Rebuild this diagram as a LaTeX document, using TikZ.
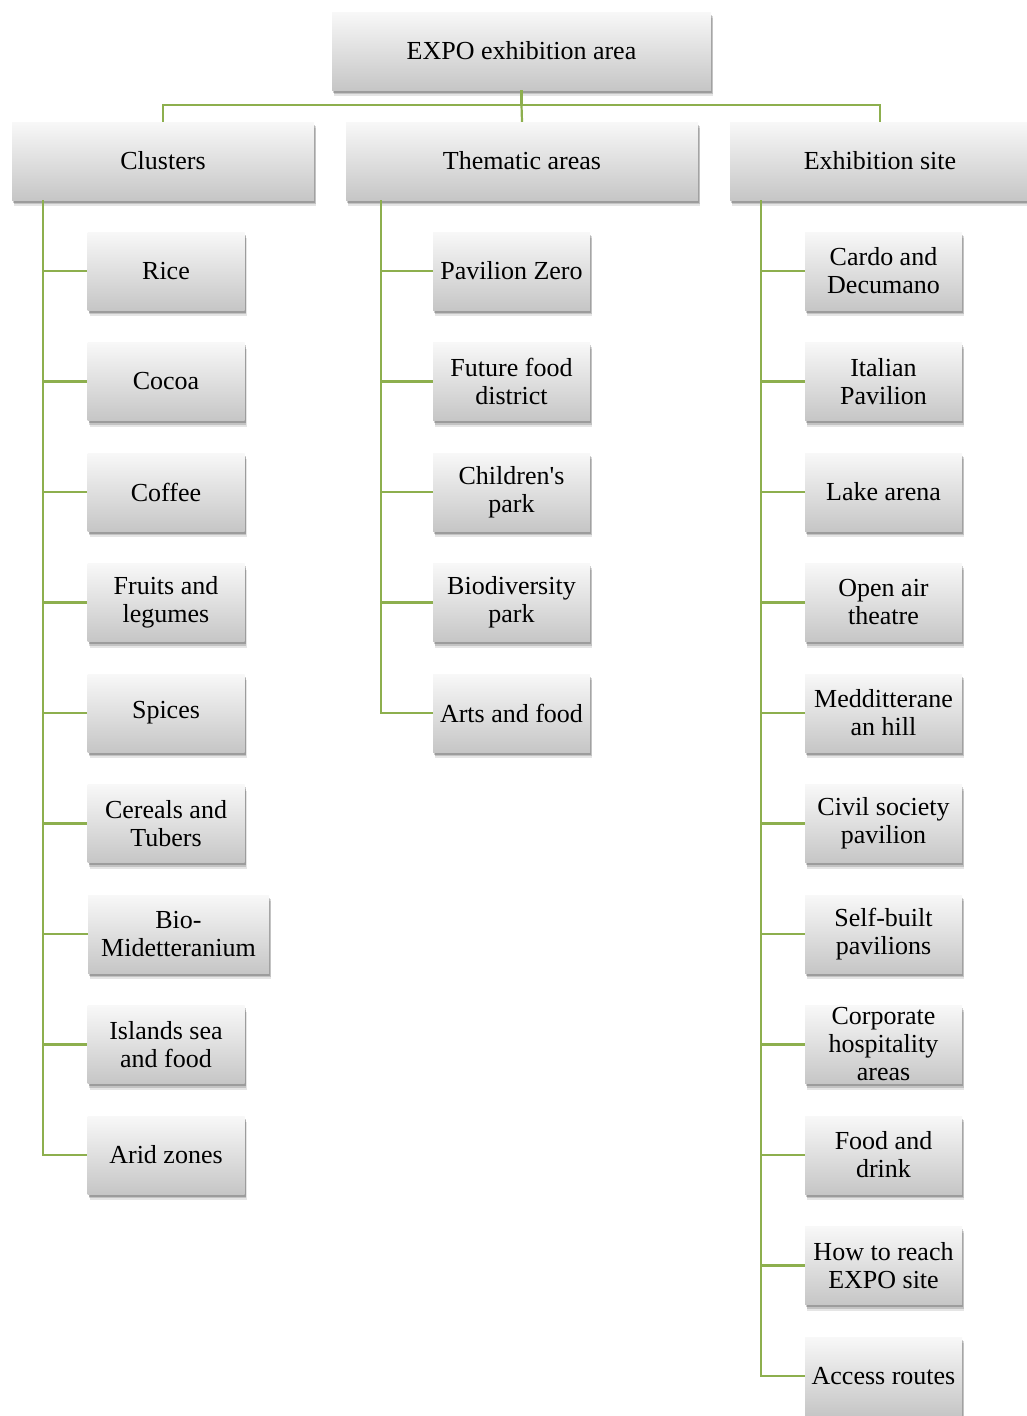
\documentclass[tikz,border=0pt]{standalone}
\usepackage{fontspec}
\setmainfont{Liberation Serif}
\usetikzlibrary{shadows}
\definecolor{lnk}{HTML}{8DAF4E}
\definecolor{btop}{HTML}{F8F8F8}
\definecolor{bbot}{HTML}{C6C6C6}
\tikzset{
  box/.style={rectangle, top color=btop, bottom color=bbot, draw=none,
    align=center, inner sep=2pt, font=\fontsize{26}{28}\selectfont,
    drop shadow={shadow xshift=2pt, shadow yshift=-6pt, opacity=0.10, fill=black},
    drop shadow={shadow xshift=1.5pt, shadow yshift=-4pt, opacity=0.15, fill=black},
    drop shadow={shadow xshift=1pt, shadow yshift=-2.5pt, opacity=0.2, fill=black}},
  topbox/.style={box, minimum height=78pt},
  leaf/.style={box, minimum width=157pt, minimum height=78pt},
  conn/.style={draw=lnk, line width=2.2pt},
  stem/.style={draw=lnk, line width=2.2pt}
}
\begin{document}
\begin{tikzpicture}[x=1pt,y=-1pt]
\useasboundingbox (0,0) rectangle (1026,1416);
\node[topbox, minimum width=379pt] (root) at (521.5,51) {EXPO exhibition area};
\node[topbox, minimum width=302pt] (clus) at (163,161) {Clusters};
\node[topbox, minimum width=352pt] (them) at (522,161) {Thematic areas};
\node[topbox, minimum width=300pt] (exhi) at (880,161) {Exhibition site};
\coordinate (bar) at (521.5,105);
\draw[conn] (root.south) -- (bar);
\draw[conn] (bar) -- (them.north);
\draw[conn] (clus.north) -- (clus.north |- bar) -- (exhi.north |- bar) -- (exhi.north);
% Clusters children
\coordinate (tc) at (43,200);
\node[leaf] (c1) at (166,271) {Rice};
\node[leaf] (c2) at (166,381.5) {Cocoa};
\node[leaf] (c3) at (166,492) {Coffee};
\node[leaf] (c4) at (166,602.5) {Fruits and\\legumes};
\node[leaf] (c5) at (166,713) {Spices};
\node[leaf] (c6) at (166,823.5) {Cereals and\\Tubers};
\node[leaf, minimum width=181pt] (c7) at (178.5,934) {Bio-\\Midetteranium};
\node[leaf] (c8) at (166,1044.5) {Islands sea\\and food};
\node[leaf] (c9) at (166,1155) {Arid zones};
\draw[stem] (tc) |- (c9.west);
\foreach \n in {c1,c2,c3,c4,c5,c6,c7,c8} {\draw[conn] (tc |- \n.west) -- (\n.west);}
% Thematic children
\coordinate (tt) at (381,200);
\node[leaf] (t1) at (511.5,271) {Pavilion Zero};
\node[leaf] (t2) at (511.5,381.5) {Future food\\district};
\node[leaf] (t3) at (511.5,492) {Children\textquotesingle s\\park};
\node[leaf] (t4) at (511.5,602.5) {Biodiversity\\park};
\node[leaf] (t5) at (511.5,713) {Arts and food};
\draw[stem] (tt) |- (t5.west);
\foreach \n in {t1,t2,t3,t4} {\draw[conn] (tt |- \n.west) -- (\n.west);}
% Exhibition children
\coordinate (te) at (761,200);
\node[leaf] (e1) at (883.5,271) {Cardo and\\Decumano};
\node[leaf] (e2) at (883.5,381.5) {Italian\\Pavilion};
\node[leaf] (e3) at (883.5,492) {Lake arena};
\node[leaf] (e4) at (883.5,602.5) {Open air\\theatre};
\node[leaf] (e5) at (883.5,713) {Medditterane\\an hill};
\node[leaf] (e6) at (883.5,823.5) {Civil society\\pavilion};
\node[leaf] (e7) at (883.5,934) {Self-built\\pavilions};
\node[leaf] (e8) at (883.5,1044.5) {Corporate\\hospitality\\areas};
\node[leaf] (e9) at (883.5,1155) {Food and\\drink};
\node[leaf] (e10) at (883.5,1265.5) {How to reach\\EXPO site};
\node[leaf] (e11) at (883.5,1376) {Access routes};
\draw[stem] (te) |- (e11.west);
\foreach \n in {e1,e2,e3,e4,e5,e6,e7,e8,e9,e10} {\draw[conn] (te |- \n.west) -- (\n.west);}
\end{tikzpicture}
\end{document}
